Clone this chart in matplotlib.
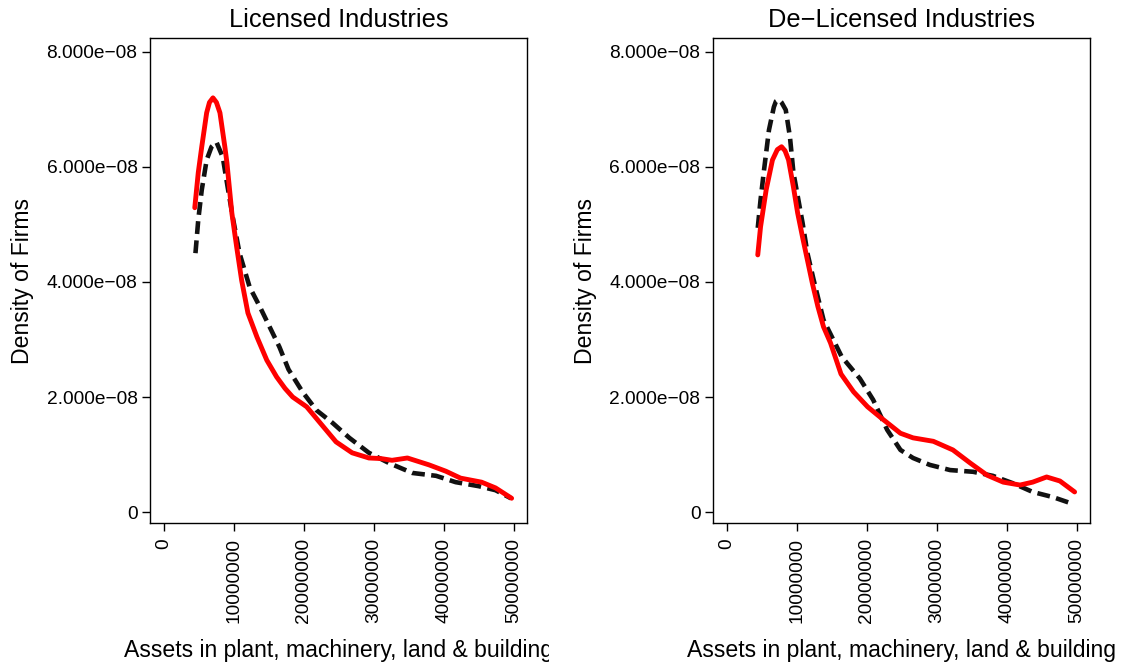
import matplotlib
matplotlib.use('Agg')
import matplotlib.pyplot as plt
from matplotlib.transforms import Bbox, TransformedBbox

plt.rcParams['font.family'] = ['Liberation Sans', 'DejaVu Sans']

# density estimates, x in millions of rupees, y in units of 1e-8
lic_red_x = [4.4, 4.9, 5.4, 6.1, 6.5, 7.0, 7.5, 8.0, 8.7, 9.0, 9.7, 10.4, 11.1, 12.0, 13.3, 14.7,
             16.1, 17.3, 18.4, 20.4, 22.6, 24.6, 26.9, 29.3, 31.0, 32.6, 34.8, 37.9, 40.3,
             42.4, 45.4, 47.4, 49.7]
lic_red_y = [5.29, 5.9, 6.35, 6.94, 7.12, 7.2, 7.12, 6.94, 6.35, 6.07, 5.2, 4.6, 4.03, 3.46, 3.04, 2.64,
             2.35, 2.15, 2.0, 1.83, 1.51, 1.22, 1.03, 0.94, 0.93, 0.9, 0.94, 0.82, 0.71,
             0.59, 0.52, 0.42, 0.24]
lic_blk_x = [4.5, 4.9, 5.4, 6.1, 6.8, 7.5, 8.4, 9.1, 9.9, 10.8, 12.25, 13.7, 15.1, 16.5, 17.8,
             19.8, 21.8, 24.1, 26.5, 29.3, 32.2, 35.5, 38.9, 41.7, 45.0, 47.4, 49.6]
lic_blk_y = [4.5, 5.08, 5.6, 6.12, 6.35, 6.43, 6.17, 5.65, 5.08, 4.5, 3.91, 3.57, 3.22, 2.87, 2.48,
             2.09, 1.77, 1.55, 1.29, 1.03, 0.85, 0.68, 0.63, 0.52, 0.45, 0.38, 0.24]

delic_red_x = [4.4, 4.8, 5.6, 6.5, 7.2, 7.8, 8.3, 8.8, 9.5, 10.1, 10.8, 11.5, 12.2, 13.0, 13.8, 14.8,
               16.3, 18.1, 20.1, 21.9, 24.8, 26.6, 29.5, 32.3, 34.8, 37.2, 39.5, 41.9, 43.7,
               45.7, 47.6, 49.7]
delic_red_y = [4.47, 4.96, 5.6, 6.12, 6.3, 6.35, 6.28, 6.12, 5.65, 5.2, 4.78, 4.38, 3.98, 3.57, 3.22, 2.94,
               2.4, 2.09, 1.83, 1.65, 1.37, 1.29, 1.23, 1.08, 0.85, 0.64, 0.52, 0.47, 0.52,
               0.61, 0.54, 0.35]
delic_blk_x = [4.4, 4.8, 5.3, 6.0, 6.7, 7.0, 7.4, 7.8, 8.4, 9.0, 9.5, 10.8, 11.5, 12.4, 13.8, 16.4,
               19.0, 20.9, 22.9, 24.8, 26.6, 29.0, 31.9, 35.2, 38.0, 40.9, 43.7, 46.6, 49.0]
delic_blk_y = [4.94, 5.43, 5.95, 6.64, 7.04, 7.14, 7.17, 7.12, 6.99, 6.52, 5.9, 5.03, 4.5, 4.03, 3.34, 2.7,
               2.32, 1.95, 1.43, 1.08, 0.94, 0.82, 0.73, 0.70, 0.63, 0.5, 0.35, 0.26, 0.16]

titles = ['Licensed Industries', 'De\u2212Licensed Industries']
xticks = [0, 10000000, 20000000, 30000000, 40000000, 50000000]
yticks = [0, 2e-8, 4e-8, 6e-8, 8e-8]
ytick_labels = ['0', '2.000e\u221208', '4.000e\u221208', '6.000e\u221208', '8.000e\u221208']
xlab = 'Assets in plant, machinery, land & building'

W, H = 1123, 665
fig = plt.figure(figsize=(W / 100, H / 100), dpi=100)

panels = [(lic_red_x, lic_red_y, lic_blk_x, lic_blk_y),
          (delic_red_x, delic_red_y, delic_blk_x, delic_blk_y)]
lefts = [150, 713]

for i in range(2):
    rx, ry, bx, by = panels[i]
    l = lefts[i]
    ax = fig.add_axes([l / W, (H - 523) / H, 377 / W, 485 / H])
    ax.plot([v * 1e6 for v in bx], [v * 1e-8 for v in by], color='#111111', lw=3.3,
            dashes=(2.8, 1.4), solid_capstyle='butt')
    ax.plot([v * 1e6 for v in rx], [v * 1e-8 for v in ry], color='red', lw=3.5,
            solid_capstyle='round', solid_joinstyle='round')
    ax.set_xlim(-2.0e6, 51.9e6)
    ax.set_ylim(-0.19e-8, 8.24e-8)
    ax.set_xticks(xticks)
    ax.set_xticklabels([str(t) for t in xticks], rotation=90, fontsize=13.8)
    ax.set_yticks(yticks)
    ax.set_yticklabels(ytick_labels, fontsize=13.8)
    ax.tick_params(direction='out', length=6, width=1, pad=3)
    ax.tick_params(axis='x', pad=5)
    for s in ax.spines.values():
        s.set_linewidth(1)
    ax.set_title(titles[i], fontsize=18.3, pad=8)
    ax.set_ylabel('Density of Firms', fontsize=16.6, labelpad=9)
    cx = (l + l + 377) / 2 / W
    t = fig.text(cx, 1 - 650 / H, xlab, ha='center', va='center', fontsize=16.6)
    if i == 0:
        t.set_clip_box(TransformedBbox(Bbox([[0, 0], [549 / W, 1]]), fig.transFigure))
        t.set_clip_on(True)

fig.savefig('out.png', dpi=100)
